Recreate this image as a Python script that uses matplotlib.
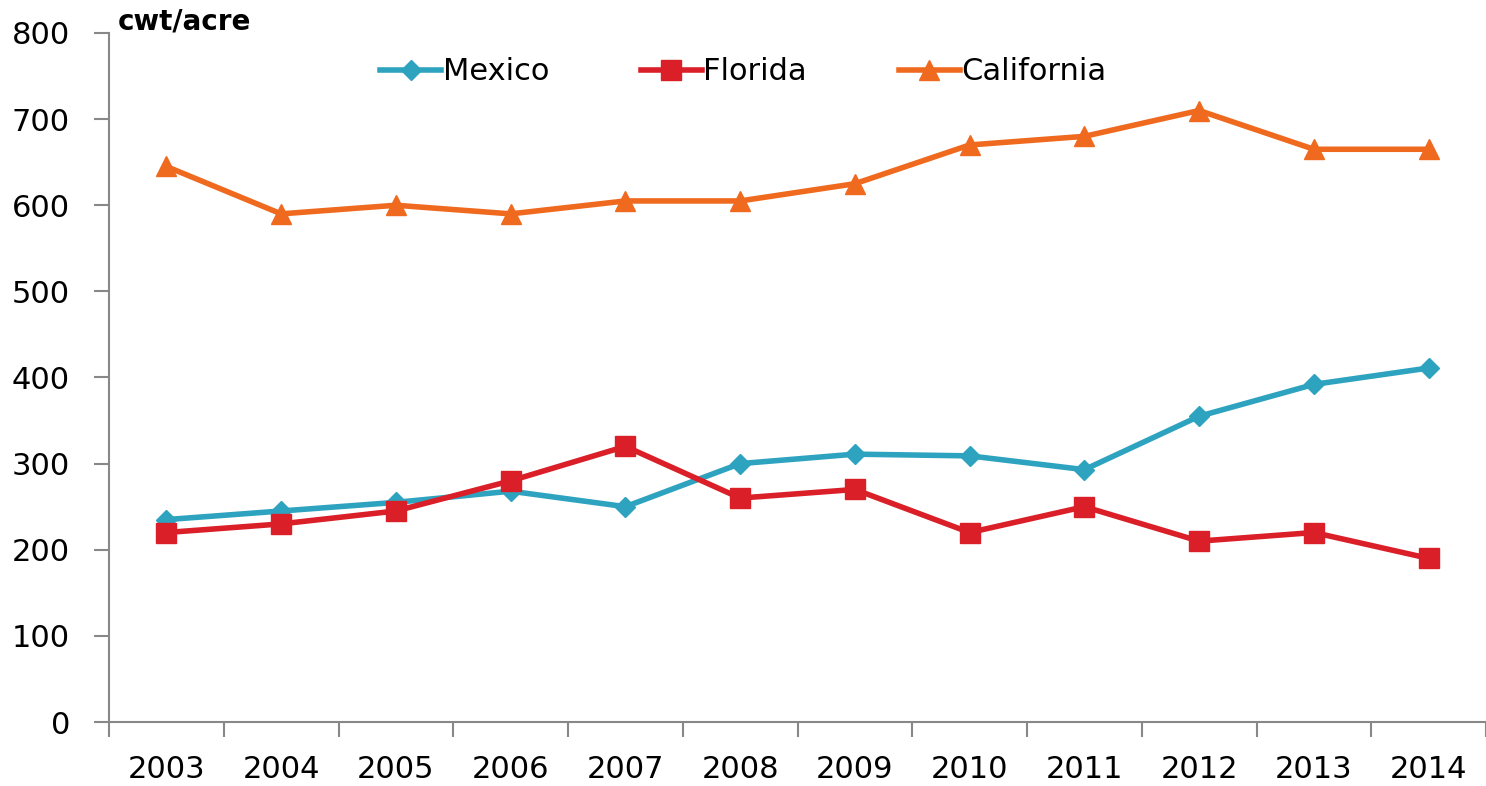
import matplotlib.pyplot as plt
import numpy as np

years = ["2003", "2004", "2005", "2006", "2007", "2008",
         "2009", "2010", "2011", "2012", "2013", "2014"]
mexico = [235, 245, 255, 268, 250, 300, 311, 309, 293, 355, 392, 411]
florida = [220, 230, 245, 280, 320, 260, 270, 220, 250, 210, 220, 190]
california = [645, 590, 600, 590, 605, 605, 625, 670, 680, 710, 665, 665]

plt.rcParams['font.family'] = ['DejaVu Sans']

fig = plt.figure(figsize=(14.86, 7.86), dpi=100)
ax = fig.add_axes([109 / 1486, 64 / 786, 1 - 109 / 1486, (722 - 33) / 786])

x = np.arange(len(years))
ax.plot(x, mexico, color="#2ea3c0", lw=4, marker="D", ms=10, label="Mexico")
ax.plot(x, florida, color="#da1f28", lw=4, marker="s", ms=14, label="Florida")
ax.plot(x, california, color="#ef6a1f", lw=4, marker="^", ms=15, label="California")

ax.set_xlim(-0.5, 11.5)
ax.set_ylim(0, 800)
ax.set_yticks(range(0, 801, 100))
ax.set_xticks(x)
ax.set_xticklabels(years)
ax.set_xticks(np.arange(-0.5, 12, 1), minor=True)
ax.tick_params(axis="x", which="major", length=0, pad=24, labelsize=22)
ax.tick_params(axis="x", which="minor", length=11, width=1.5, color="#888888", direction="out")
ax.tick_params(axis="y", length=11, width=1.5, color="#888888", labelsize=22, pad=17)

for side in ["top", "right"]:
    ax.spines[side].set_visible(False)
for side in ["left", "bottom"]:
    ax.spines[side].set_color("#888888")
    ax.spines[side].set_linewidth(1.5)

fig.text(118 / 1486, 1 - 22 / 786, "cwt/acre", fontsize=20, fontweight="bold", va="center")

ax.legend(loc="center left", bbox_to_anchor=(380 / 1486, 1 - 72 / 786),
          bbox_transform=fig.transFigure, ncol=3, frameon=False, borderpad=0,
          borderaxespad=0, fontsize=22, handlelength=2.0, handletextpad=0.05,
          columnspacing=3.0)

plt.savefig("out.png", dpi=100)
